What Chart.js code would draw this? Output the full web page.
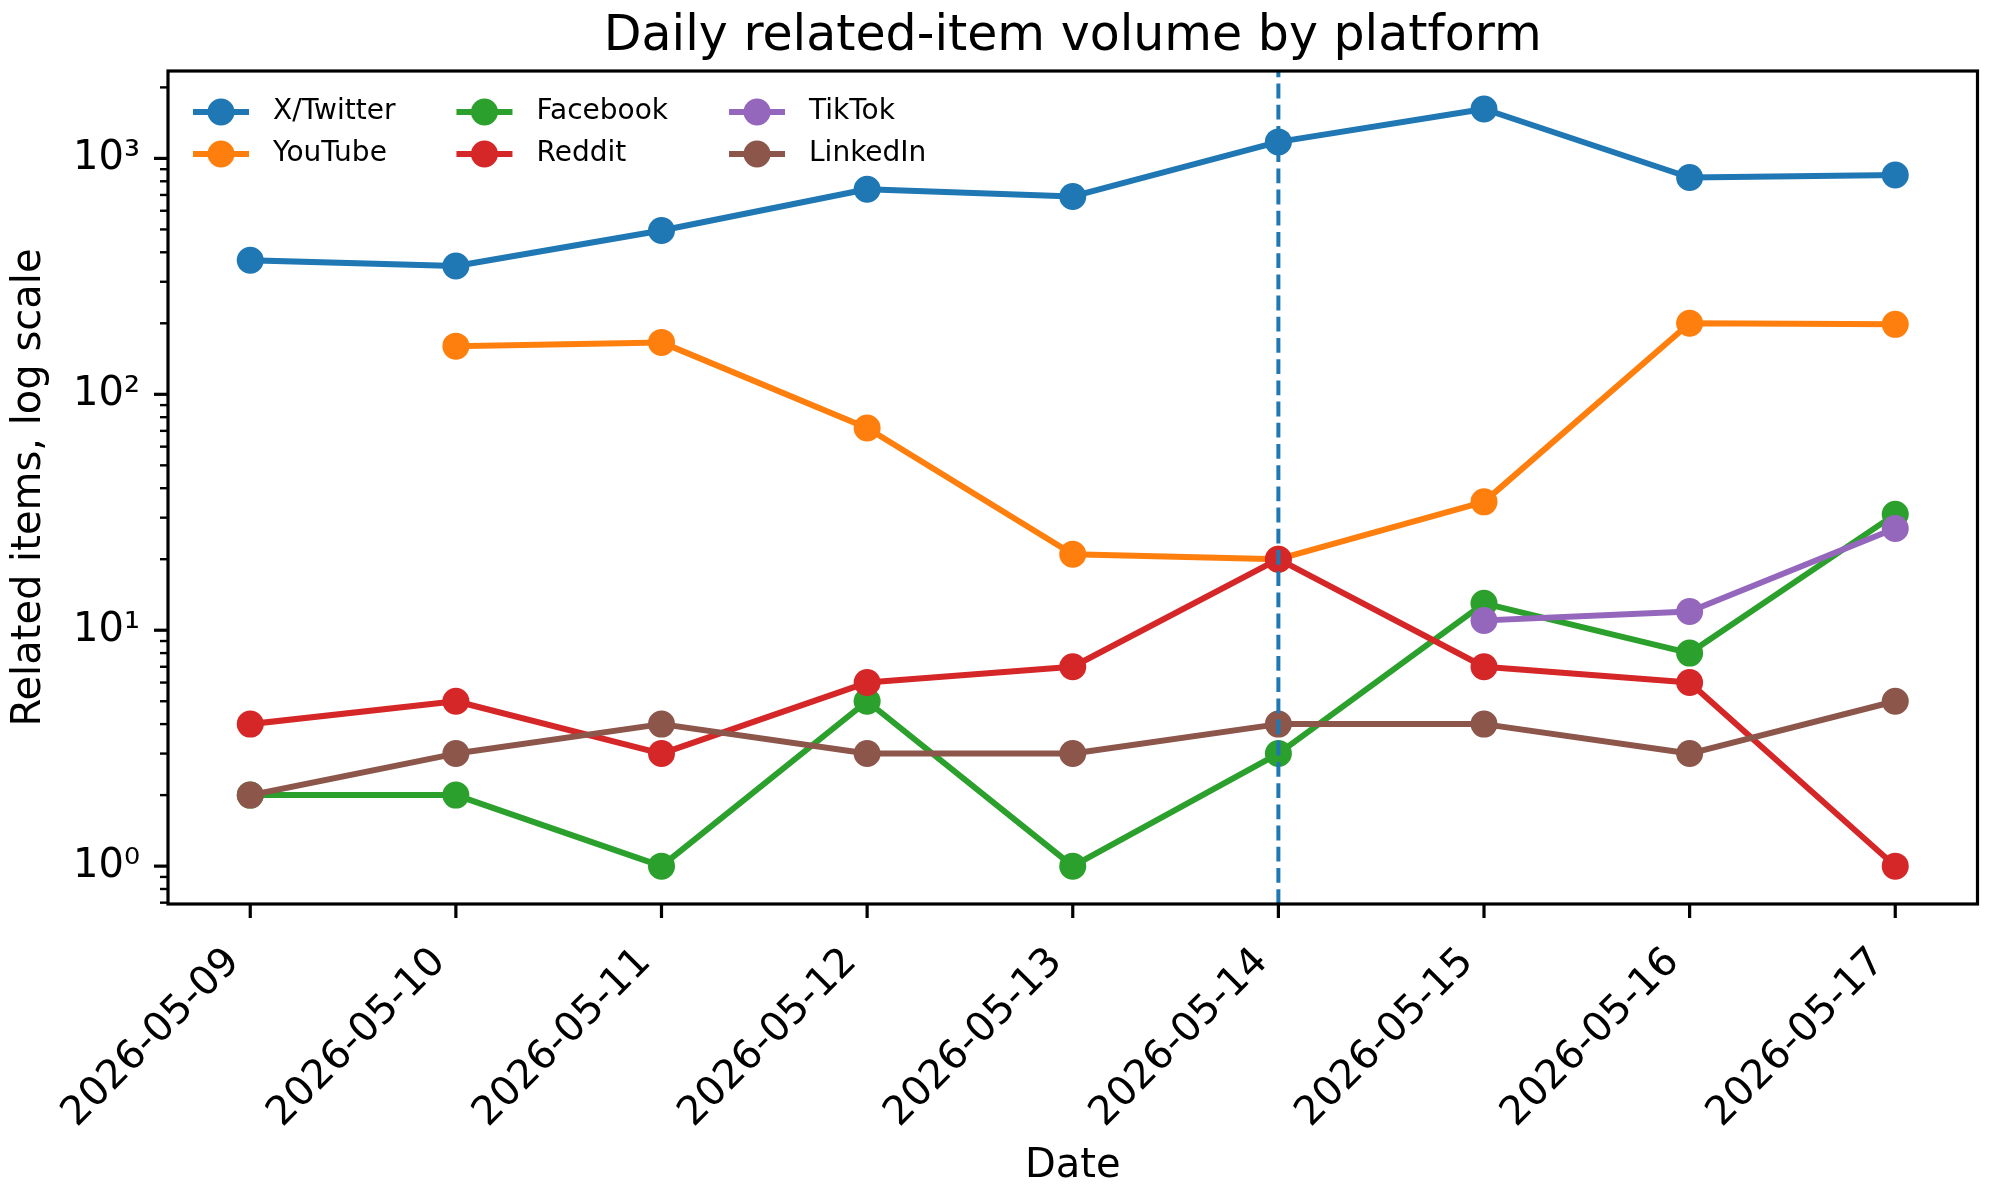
<!DOCTYPE html>
<html>
<head>
<meta charset="utf-8">
<title>Daily related-item volume by platform</title>
<script src="https://cdn.jsdelivr.net/npm/chart.js@4.4.1/dist/chart.umd.min.js"></script>
<style>
  html, body { margin: 0; padding: 0; background: #fff; }
  #wrap { width: 1991px; height: 1189px; position: relative; }
</style>
</head>
<body>
<div id="wrap"><canvas id="volumeChart"></canvas></div>
<script>
// values
const dates = ["2026-05-09", "2026-05-10", "2026-05-11", "2026-05-12", "2026-05-13",
               "2026-05-14", "2026-05-15", "2026-05-16", "2026-05-17"];
const platforms = ["X/Twitter", "YouTube", "Facebook", "Reddit", "TikTok", "LinkedIn"];
const colors = ["#1f77b4", "#ff7f0e", "#2ca02c", "#d62728", "#9467bd", "#8c564b"];

const xTwitter = [370, 350, 495, 740, 690, 1175, 1620, 830, 850];
const youTube  = [null, 160, 166, 72, 21, 20, 35, 200, 198];
const facebook = [2, 2, 1, 5, 1, 3, 13, 8, 31];
const reddit   = [4, 5, 3, 6, 7, 20, 7, 6, 1];
const tikTok   = [null, null, null, null, null, null, 11, 12, 27];
const linkedIn = [2, 3, 4, 3, 3, 4, 4, 3, 5];

const series = [xTwitter, youTube, facebook, reddit, tikTok, linkedIn];
const markerDate = "2026-05-14";

const yMin = 0.691, yMax = 2347;
const FONT = "DejaVu Sans";
const SUP = { "0": "\u2070", "1": "\u00b9", "2": "\u00b2", "3": "\u00b3", "-": "\u207b" };

function isDecade(v) {
  const e = Math.log10(v);
  return Math.abs(e - Math.round(e)) < 1e-9;
}

// spines, tick marks, the dashed marker line and the in-axes legend
const decor = {
  id: "decor",
  afterDatasetsDraw(chart) {
    const { ctx, chartArea: a, scales: { x } } = chart;
    const px = x.getPixelForValue(dates.indexOf(markerDate));
    ctx.save();
    ctx.strokeStyle = "#1f77b4";
    ctx.lineWidth = 4;
    ctx.setLineDash([14.8, 6.4]);
    ctx.beginPath();
    ctx.moveTo(px, a.bottom);
    ctx.lineTo(px, a.top);
    ctx.stroke();
    ctx.restore();
  },
  afterDraw(chart) {
    const { ctx, chartArea: a, scales: { x, y } } = chart;
    ctx.save();
    ctx.strokeStyle = "#000";
    ctx.lineCap = "butt";

    y.ticks.forEach(t => {
      const py = y.getPixelForValue(t.value);
      const major = isDecade(t.value);
      ctx.lineWidth = major ? 3.2 : 2.4;
      ctx.beginPath();
      ctx.moveTo(a.left, py);
      ctx.lineTo(a.left - (major ? 14 : 8), py);
      ctx.stroke();
    });
    ctx.lineWidth = 3.2;
    x.ticks.forEach(t => {
      const px = x.getPixelForValue(t.value);
      ctx.beginPath();
      ctx.moveTo(px, a.bottom);
      ctx.lineTo(px, a.bottom + 14);
      ctx.stroke();
    });
    ctx.strokeRect(a.left, a.top, a.right - a.left, a.bottom - a.top);

    // legend, 3 columns filled column by column
    const fs = 28;
    ctx.font = fs + 'px "' + FONT + '"';
    ctx.textBaseline = "middle";
    ctx.textAlign = "left";
    const rows = [a.top + 41, a.top + 83];
    let colX = a.left + 25;
    for (let c = 0; c < 3; c++) {
      let maxW = 0;
      for (let r = 0; r < 2; r++) {
        const i = c * 2 + r;
        const ly = rows[r];
        ctx.strokeStyle = colors[i];
        ctx.fillStyle = colors[i];
        ctx.lineWidth = 6;
        ctx.beginPath();
        ctx.moveTo(colX, ly);
        ctx.lineTo(colX + 56, ly);
        ctx.stroke();
        ctx.beginPath();
        ctx.arc(colX + 28, ly, 13.5, 0, Math.PI * 2);
        ctx.fill();
        ctx.fillStyle = "#000";
        ctx.fillText(platforms[i], colX + 80, ly);
        maxW = Math.max(maxW, ctx.measureText(platforms[i]).width);
      }
      colX += 80 + maxW + 61;
    }
    ctx.restore();
  }
};

const datasets = platforms.map((name, i) => ({
  label: name,
  data: series[i].map((v, k) => ({ x: k, y: v })),
  borderColor: colors[i],
  backgroundColor: colors[i],
  borderWidth: 6,
  borderJoinStyle: "round",
  borderCapStyle: "square",
  pointRadius: 13.5,
  pointBorderWidth: 0,
  pointBackgroundColor: colors[i],
  tension: 0,
  spanGaps: false,
  order: platforms.length - i
}));

new Chart(document.getElementById("volumeChart"), {
  type: "line",
  data: { datasets },
  options: {
    responsive: true,
    maintainAspectRatio: false,
    animation: false,
    events: [],
    layout: { padding: { left: 0, right: 13, top: 0, bottom: 0 } },
    plugins: {
      legend: { display: false },
      tooltip: { enabled: false },
      title: {
        display: true,
        text: "Daily related-item volume by platform",
        color: "#000",
        fullSize: false,
        font: { family: FONT, size: 49, weight: "normal", lineHeight: 1.2 },
        padding: { top: 8, bottom: 4.2 }
      }
    },
    scales: {
      x: {
        type: "linear",
        min: -0.4,
        max: 8.4,
        bounds: "data",
        grid: { display: false, drawTicks: false },
        border: { display: false },
        afterBuildTicks: s => { s.ticks = dates.map((d, i) => ({ value: i })); },
        afterFit: s => { s.height = 285; },
        ticks: {
          autoSkip: false,
          minRotation: 45,
          maxRotation: 45,
          padding: 35,
          labelOffset: -16.5,
          color: "#000",
          font: { family: FONT, size: 40 },
          callback: v => dates[v]
        },
        title: {
          display: true,
          text: "Date",
          color: "#000",
          font: { family: FONT, size: 40, lineHeight: 1.1 },
          padding: { top: 0, bottom: 0 }
        }
      },
      y: {
        type: "logarithmic",
        min: yMin,
        max: yMax,
        bounds: "data",
        grid: { display: false, drawTicks: false },
        border: { display: false },
        afterBuildTicks: s => {
          const ticks = [];
          for (let k = Math.floor(Math.log10(yMin)); k <= Math.ceil(Math.log10(yMax)); k++) {
            for (let m = 1; m <= 9; m++) {
              const v = Number((m * Math.pow(10, k)).toPrecision(12));
              if (v >= yMin && v <= yMax) ticks.push({ value: v, major: m === 1 });
            }
          }
          s.ticks = ticks;
        },
        afterFit: s => { s.width = 168; },
        ticks: {
          autoSkip: false,
          padding: 28,
          color: "#000",
          font: { family: FONT, size: 40 },
          callback: v => isDecade(v)
            ? "10" + String(Math.round(Math.log10(v))).split("").map(ch => SUP[ch]).join("")
            : ""
        },
        title: {
          display: true,
          text: "Related items, log scale",
          color: "#000",
          font: { family: FONT, size: 40, lineHeight: 1.2 },
          padding: { top: 6, bottom: 0 }
        }
      }
    }
  },
  plugins: [decor]
});
</script>
</body>
</html>
